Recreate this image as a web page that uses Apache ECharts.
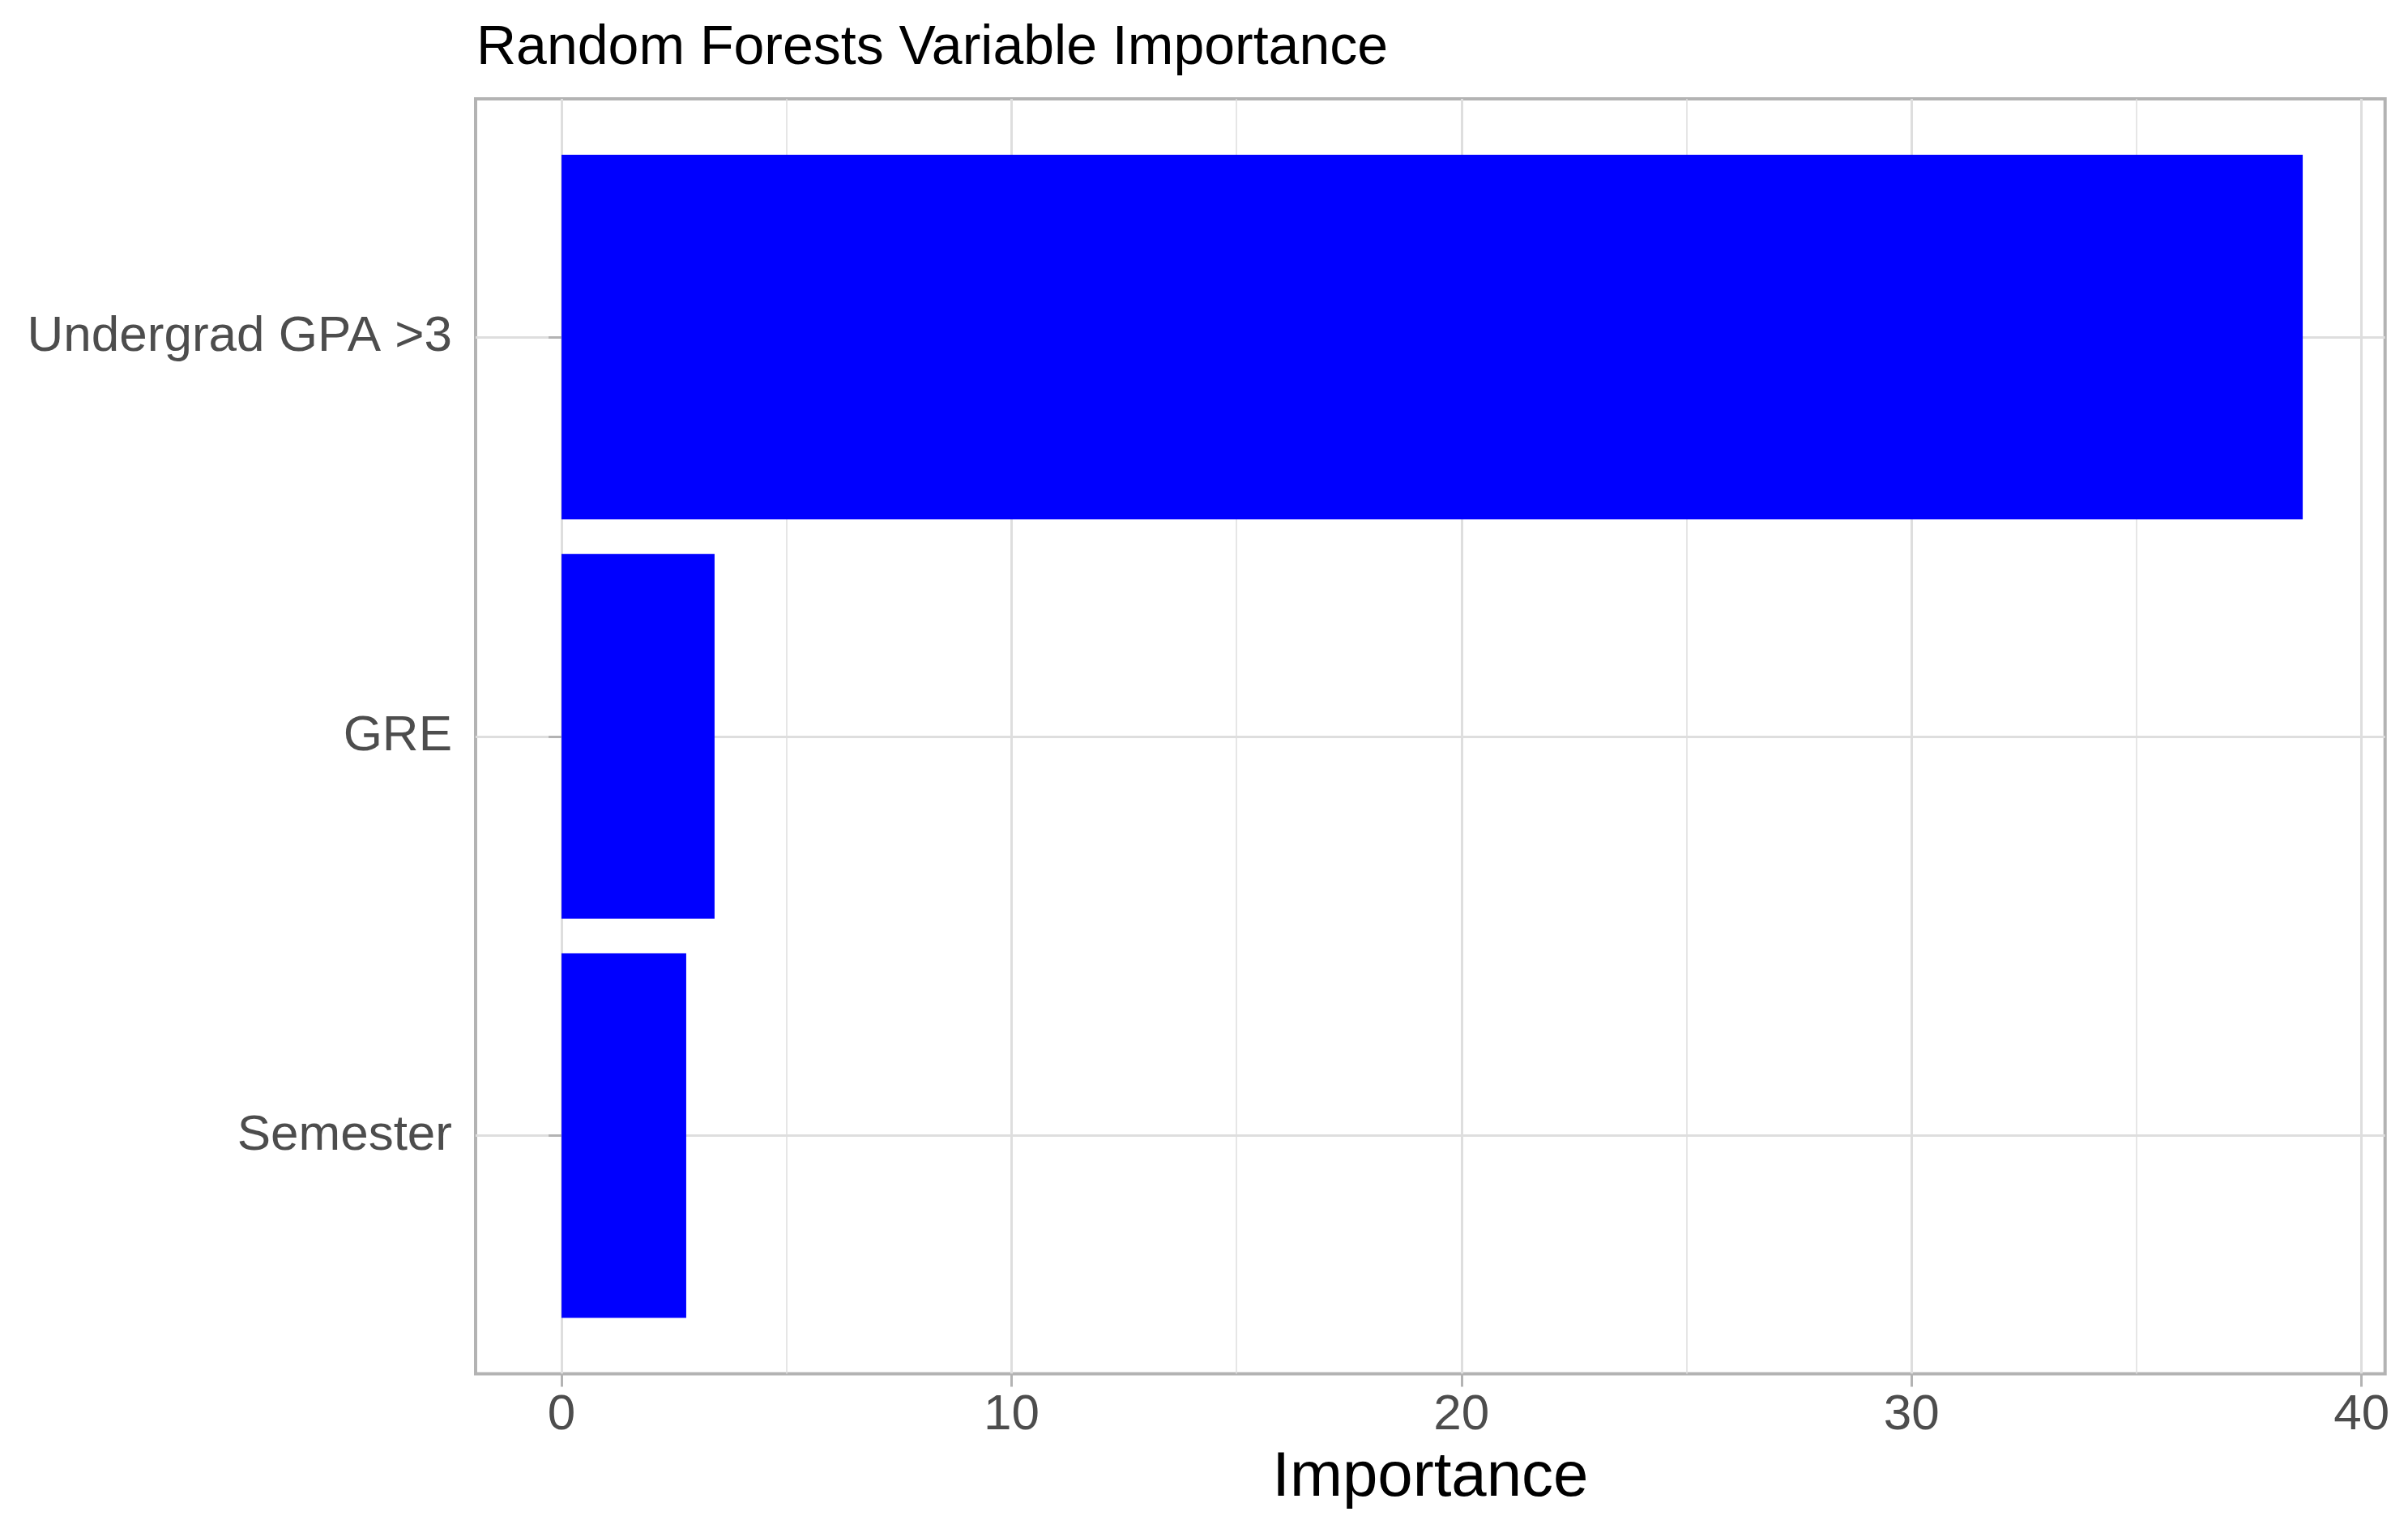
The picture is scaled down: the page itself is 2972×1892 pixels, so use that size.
<!DOCTYPE html>
<html>
<head>
<meta charset="utf-8">
<script src="https://cdn.jsdelivr.net/npm/echarts@6/dist/echarts.min.js"></script>
<style>
  html, body { margin: 0; padding: 0; background: #ffffff; }
  #chart { width: 2972px; height: 1892px; }
</style>
</head>
<body>
<div id="chart"></div>
<script>
// ---- data (bottom-to-top order, as in the reference) ----
const categories = ['Semester', 'GRE', 'Undergrad GPA >3'];
const importance = [2.77, 3.40, 38.69];
const xTickMin = 0;
const xTickMax = 40;
const xTickStep = 10;
const xPanelMin = -1.91;
const xPanelMax = 40.52;
const titleText = 'Random Forests Variable Importance';
const xAxisTitle = 'Importance';

const FONT = '"Liberation Sans", Arial, Helvetica, sans-serif';
const GRID_COLOR = '#DEDEDE';
const BORDER_COLOR = '#B3B3B3';
const LABEL_COLOR = '#4D4D4D';

const chart = echarts.init(document.getElementById('chart'), null, { renderer: 'canvas' });

const option = {
  backgroundColor: '#ffffff',
  animation: false,
  textStyle: { fontFamily: FONT },
  title: {
    text: titleText,
    left: 588,
    top: 26,
    padding: 0,
    textStyle: { fontFamily: FONT, fontSize: 68, fontWeight: 'normal', color: '#000000' }
  },
  grid: [
    // 0: vertical grid lines + x ticks/labels (from x=0 to x=40)
    { left: 693, right: 57.3, top: 122, bottom: 196.5 },
    // 1: horizontal grid lines at category centres (full panel width)
    { left: 587, right: 28.3, top: 416, bottom: 490.5 },
    // 2: bars (category bands), full panel width
    { left: 587, right: 28.3, top: 169.6, bottom: 244.1 },
    // 3: panel border + axis title
    { left: 587, right: 28.3, top: 122, bottom: 196.5, show: true,
      borderColor: BORDER_COLOR, borderWidth: 4, backgroundColor: 'transparent' }
  ],
  xAxis: [
    {
      gridIndex: 0, type: 'value', min: xTickMin, max: xTickMax, interval: xTickStep,
      axisLine: { show: false },
      axisTick: { show: true, length: 16, lineStyle: { color: BORDER_COLOR, width: 3 } },
      axisLabel: { fontFamily: FONT, fontSize: 62, color: LABEL_COLOR, margin: 20 },
      splitLine: { show: true, lineStyle: { color: GRID_COLOR, width: 3 } },
      minorTick: { show: false, splitNumber: 2 },
      minorSplitLine: { show: true, lineStyle: { color: GRID_COLOR, width: 1.5 } }
    },
    { gridIndex: 1, type: 'value', min: 0, max: 1, show: false },
    { gridIndex: 2, type: 'value', min: xPanelMin, max: xPanelMax, show: false },
    {
      gridIndex: 3, type: 'value', min: xPanelMin, max: xPanelMax,
      name: xAxisTitle, nameLocation: 'middle', nameGap: 90,
      nameTextStyle: { fontFamily: FONT, fontSize: 78, color: '#000000' },
      axisLine: { show: false }, axisTick: { show: false },
      axisLabel: { show: false }, splitLine: { show: false }
    }
  ],
  yAxis: [
    { gridIndex: 0, type: 'value', min: 0, max: 1, show: false },
    {
      gridIndex: 1, type: 'value', min: 1, max: categories.length, interval: 1,
      axisLine: { show: false }, axisTick: { show: false }, axisLabel: { show: false },
      splitLine: { show: true, lineStyle: { color: GRID_COLOR, width: 3 } }
    },
    {
      gridIndex: 2, type: 'category', data: categories,
      axisLine: { show: false },
      axisTick: { show: true, alignWithLabel: true, length: 16, lineStyle: { color: BORDER_COLOR, width: 3 } },
      axisLabel: { fontFamily: FONT, fontSize: 62, color: LABEL_COLOR, margin: 29 },
      splitLine: { show: false }
    },
    { gridIndex: 3, type: 'value', min: 0, max: 1, show: false }
  ],
  series: [
    {
      type: 'bar',
      xAxisIndex: 2, yAxisIndex: 2,
      data: importance,
      barWidth: 450,
      itemStyle: { color: '#0000FF' },
      z: 5
    }
  ]
};

chart.setOption(option);
</script>
</body>
</html>
